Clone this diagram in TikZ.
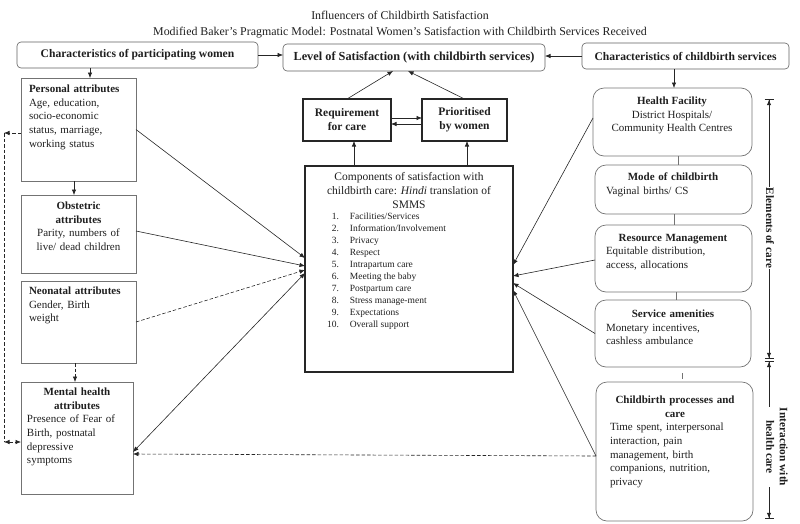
\documentclass[tikz,border=0pt]{standalone}
\usepackage{fontspec}
\setmainfont{Liberation Serif}
\usetikzlibrary{arrows.meta,calc}
\begin{document}
\begin{tikzpicture}[x=1pt,y=-1pt,
  every node/.style={inner sep=0pt, outer sep=0pt, text=black!88},
  f/.style={font=\fontsize{11}{13.6}\selectfont},
  topbox/.style={draw=black!62, line width=0.6pt, rounded corners=4pt, anchor=north west, font=\fontsize{11.6}{14}\selectfont\bfseries},
  lbox/.style={draw=black!55, line width=0.7pt, anchor=north west},
  mbox/.style={draw=black!85, line width=1.1pt, anchor=north west},
  rbox/.style={draw=black!55, line width=0.7pt, rounded corners=11pt, anchor=north west},
  arr/.style={line width=0.6pt, draw=black!85, -{Latex[length=5.5pt,width=4.5pt]}},
  darr/.style={arr, dashed, dash pattern=on 3.5pt off 2pt},
  dline/.style={line width=0.6pt, draw=black!85, dashed, dash pattern=on 3.5pt off 2pt},
  conn/.style={line width=0.5pt, draw=black!55},
  dim/.style={line width=0.7pt, draw=black!85, {Bar[width=9pt]Latex[length=5.5pt,width=4.5pt]}-{Latex[length=5.5pt,width=4.5pt]Bar[width=9pt]}},
  body/.style={f, align=left, anchor=north west}
]
\useasboundingbox (0,0) rectangle (800,523);

% titles
\node[font=\fontsize{11.9}{14}\selectfont] (t1) at (400,15) {Influencers of Childbirth Satisfaction};
\node[font=\fontsize{11.9}{14}\selectfont] (t2) at (400,33) {Modified Baker's Pragmatic Model: Postnatal Women's Satisfaction with Childbirth Services Received};

% top boxes
\node[topbox, minimum width=241pt, minimum height=26pt] (cpw) at (17,42) {Characteristics of participating women};
\node[topbox, minimum width=262pt, minimum height=27pt, font=\fontsize{12.3}{14}\selectfont\bfseries] (lvl) at (283,44) {Level of Satisfaction (with childbirth services)};
\node[topbox, minimum width=207pt, minimum height=26pt] (ccs) at (582,43) {Characteristics of childbirth services};

% left boxes
\node[lbox, minimum width=115pt, minimum height=103pt] (pers) at (21,78) {};
\node[lbox, minimum width=115pt, minimum height=78pt] (obst) at (21,195) {};
\node[lbox, minimum width=115pt, minimum height=82pt] (neo) at (21,281) {};
\node[lbox, minimum width=112pt, minimum height=112pt] (ment) at (21,382) {};

\node[body, text width=106pt] (perst) at (29,85) {\textbf{Personal attributes}\\Age, education,\\socio-economic\\status, marriage,\\working status};
\node[f, align=center, anchor=north, text width=110pt] (obstt) at (78.5,202) {\textbf{Obstetric}\\\textbf{attributes}\\Parity, numbers of\\live/ dead children};
\node[body, text width=106pt] (neot) at (29,287) {\textbf{Neonatal attributes}\\Gender, Birth\\weight};
\node[body, text width=100pt] (mentt) at (27,388) {{\centering\bfseries Mental health\\attributes\par}Presence of Fear of\\Birth, postnatal\\depressive\\symptoms};

% middle boxes
\node[mbox, minimum width=88pt, minimum height=42pt] (req) at (303,99) {};
\node[mbox, minimum width=85pt, minimum height=42pt] (prio) at (422,99) {};
\node[mbox, minimum width=208pt, minimum height=206pt] (comp) at (305,166) {};
\node[align=center, font=\fontsize{11.5}{14}\selectfont\bfseries] (reqt) at (req.center) {Requirement\\for care};
\node[align=center, font=\fontsize{11.5}{14}\selectfont\bfseries] (priot) at (prio.center) {Prioritised\\by women};
\node[align=center, anchor=north, font=\fontsize{11.5}{14}\selectfont] (compt) at (409,172) {Components of satisfaction with\\childbirth care: \textit{Hindi} translation of\\SMMS};
\node[anchor=north west, align=left, font=\fontsize{9.5}{12}\selectfont] (list) at (327,211) {\begin{tabular}{@{}r@{\hspace{11pt}}l@{}}
1. & Facilities/Services\\
2. & Information/Involvement\\
3. & Privacy\\
4. & Respect\\
5. & Intrapartum care\\
6. & Meeting the baby\\
7. & Postpartum care\\
8. & Stress manage-ment\\
9. & Expectations\\
10. & Overall support
\end{tabular}};

% right boxes
\node[rbox, minimum width=159pt, minimum height=68pt] (hf) at (593,88) {};
\node[rbox, minimum width=157pt, minimum height=49pt] (mode) at (595,165) {};
\node[rbox, minimum width=157pt, minimum height=67pt] (res) at (595,225) {};
\node[rbox, minimum width=156pt, minimum height=67pt] (serv) at (595,300) {};
\node[rbox, minimum width=157pt, minimum height=139pt] (proc) at (596,382) {};

\node[f, align=center, anchor=north] (hft) at (672,97) {\textbf{Health Facility}\\District Hospitals/\\Community Health Centres};
\node[body, text width=134pt] (modet) at (606,173) {{\centering\bfseries Mode of childbirth\par}Vaginal births/ CS};
\node[body, text width=134pt] (rest) at (606,234) {{\centering\bfseries Resource Management\par}Equitable distribution,\\access, allocations};
\node[body, text width=134pt] (servt) at (606,310) {{\centering\bfseries Service amenities\par}Monetary incentives,\\cashless ambulance};
\node[body, text width=130pt] (proct) at (610,396) {{\centering\bfseries Childbirth processes and\\care\par}Time spent, interpersonal\\interaction, pain\\management, birth\\companions, nutrition,\\privacy};

% helper coordinates
\coordinate (x90) at (90,0);
\coordinate (x74) at (74,0);
\coordinate (x75) at (75,0);
\coordinate (x674) at (674,0);
\coordinate (x678) at (678,0);
\coordinate (x676) at (676,0);
\coordinate (x682) at (682,0);
\coordinate (x354) at (354,0);
\coordinate (x467) at (467,0);
\coordinate (lt) at (4,133);
\coordinate (lb) at (4,442);

% top connectors
\draw[arr] (cpw.east) -- (cpw.east -| lvl.west);
\draw[arr] (ccs.west) -- (ccs.west -| lvl.east);
\draw[arr] (cpw.south -| x90) -- (pers.north -| x90);
\draw[arr] (ccs.south -| x674) -- (hf.north -| x674);

% left chain
\draw[arr] (pers.south -| x74) -- (obst.north -| x74);
\draw[darr] (neo.south -| x75) -- (ment.north -| x75);
\draw[darr] (pers.west |- lt) -- (lt);
\draw[dline] (lt) -- (lb);
\draw[dline, {Latex[length=5.5pt,width=4.5pt]}-{Latex[length=5.5pt,width=4.5pt]}] (lb) -- (ment.west |- lb);

% right chain
\draw[conn] (hf.south -| x678) -- (mode.north -| x678);
\draw[conn] (mode.south -| x674) -- (res.north -| x674);
\draw[conn] (res.south -| x676) -- (serv.north -| x676);
\draw[conn, shorten <=6pt, shorten >=3pt] (serv.south -| x682) -- (proc.north -| x682);

% middle
\draw[arr] (req.north) -- ([xshift=-21pt]lvl.south);
\draw[arr] (prio.north) -- ([xshift=-6pt]lvl.south);
\draw[arr] ([yshift=2pt]req.east) -- ([yshift=2pt]prio.west);
\draw[arr] ([yshift=-4pt]prio.west) -- ([yshift=-4pt]req.east);
\draw[arr] (comp.north -| x354) -- (req.south -| x354);
\draw[arr] (comp.north -| x467) -- (prio.south -| x467);

% into components (left)
\draw[arr] (pers.east) -- ([yshift=11pt]comp.west);
\draw[arr] ([yshift=3pt]obst.east) -- ([yshift=3pt]comp.west);
\draw[darr] (neo.east) -- ([yshift=-1pt]comp.west);
\draw[line width=0.6pt, draw=black!85, {Latex[length=5.5pt,width=4.5pt]}-{Latex[length=5.5pt,width=4.5pt]}] ([yshift=-14pt]ment.east) -- ([yshift=-4pt]comp.west);

% into components (right)
\draw[arr] ([yshift=4pt]hf.west) -- ([yshift=4pt]comp.east);
\draw[arr] ([yshift=-1.5pt]res.west) -- ([yshift=-7pt]comp.east);
\draw[arr] (serv.west) -- ([yshift=-14pt]comp.east);
\draw[arr] ([yshift=-4.5pt]proc.west) -- ([yshift=-21pt]comp.east);
\draw[darr] ([yshift=-4.5pt]proc.west) -- ([yshift=-16pt]ment.east);

% dimension arrows
\coordinate (e1) at (769,99);
\coordinate (e2) at (769,359);
\coordinate (e3) at (769,361);
\coordinate (e4) at (769,519);
\draw[dim] (e2) -- (e1);
\draw[dim] (e4) -- (e3);
\node[fill=white, inner xsep=1pt, inner ysep=5pt, rotate=-90, font=\fontsize{11.3}{13.6}\selectfont\bfseries, align=center] (elab) at (770,228) {Elements of care};
\node[fill=white, inner xsep=1pt, inner ysep=5pt, rotate=-90, font=\fontsize{11.3}{13.5}\selectfont\bfseries, align=center] (ilab) at (777,447) {Interaction with\\health care};
\end{tikzpicture}
\end{document}
